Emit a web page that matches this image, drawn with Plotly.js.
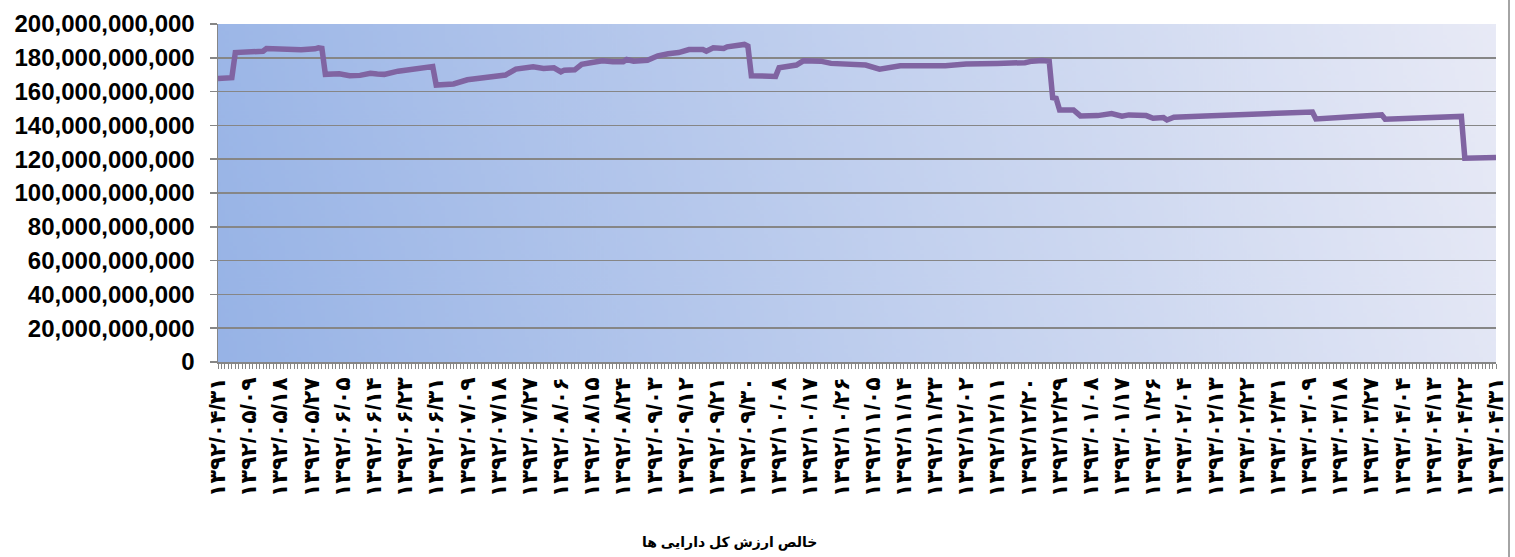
<!DOCTYPE html>
<html>
<head>
<meta charset="utf-8">
<script src="https://cdn.plot.ly/plotly-3.0.1.min.js"></script>
<style>
html,body{margin:0;padding:0;background:#fff;}
#chart{width:1515px;height:557px;}
</style>
</head>
<body>
<div id="chart"></div>
<script>
// Tick labels (every 9th daily category)
const tickLabels = ['۱۳۹۲/۰۴/۳۱','۱۳۹۲/۰۵/۰۹','۱۳۹۲/۰۵/۱۸','۱۳۹۲/۰۵/۲۷','۱۳۹۲/۰۶/۰۵','۱۳۹۲/۰۶/۱۴','۱۳۹۲/۰۶/۲۳','۱۳۹۲/۰۶/۳۱','۱۳۹۲/۰۷/۰۹','۱۳۹۲/۰۷/۱۸','۱۳۹۲/۰۷/۲۷','۱۳۹۲/۰۸/۰۶','۱۳۹۲/۰۸/۱۵','۱۳۹۲/۰۸/۲۴','۱۳۹۲/۰۹/۰۳','۱۳۹۲/۰۹/۱۲','۱۳۹۲/۰۹/۲۱','۱۳۹۲/۰۹/۳۰','۱۳۹۲/۱۰/۰۸','۱۳۹۲/۱۰/۱۷','۱۳۹۲/۱۰/۲۶','۱۳۹۲/۱۱/۰۵','۱۳۹۲/۱۱/۱۴','۱۳۹۲/۱۱/۲۳','۱۳۹۲/۱۲/۰۲','۱۳۹۲/۱۲/۱۱','۱۳۹۲/۱۲/۲۰','۱۳۹۲/۱۲/۲۹','۱۳۹۳/۰۱/۰۸','۱۳۹۳/۰۱/۱۷','۱۳۹۳/۰۱/۲۶','۱۳۹۳/۰۲/۰۴','۱۳۹۳/۰۲/۱۳','۱۳۹۳/۰۲/۲۲','۱۳۹۳/۰۲/۳۱','۱۳۹۳/۰۳/۰۹','۱۳۹۳/۰۳/۱۸','۱۳۹۳/۰۳/۲۷','۱۳۹۳/۰۴/۰۴','۱۳۹۳/۰۴/۱۳','۱۳۹۳/۰۴/۲۲','۱۳۹۳/۰۴/۳۱'];
const labelStep = 9;

// Series: category index (day number) and net asset value (rials)
const dayIndex = [0,4,5,13,14,17,20,22,24,28,29,30,31,35,38,41,44,46,48,52,56,61,62,63,68,72,78,81,83,86,89,90,91,94,97,99,100,103,105,108,111,114,117,118,120,124,127,130,133,136,140,141,143,146,147,152,153,154,158,161,162,165,167,169,172,174,177,181,184,187,191,195,197,200,206,210,216,224,225,233,235,238,240,241,242,243,247,249,254,258,261,263,266,268,270,273,274,276,285,300,316,317,324,325,336,337,343,358,359,360,369];
const navValue = [167.8e9,168.2e9,183.1e9,183.9e9,185.5e9,185.2e9,185.1e9,184.5e9,184.7e9,185.3e9,185.9e9,185.6e9,170.2e9,170.6e9,169.4e9,169.6e9,170.8e9,170.4e9,170.2e9,172.1e9,173.5e9,175.1e9,174.8e9,163.9e9,164.5e9,167.0e9,168.4e9,169.4e9,169.8e9,173.3e9,173.7e9,174.5e9,174.7e9,173.7e9,174.1e9,171.7e9,172.7e9,172.9e9,176.1e9,177.2e9,178.2e9,177.6e9,177.6e9,179.0e9,178.0e9,178.6e9,181.2e9,182.4e9,183.1e9,184.9e9,184.9e9,183.9e9,185.9e9,185.5e9,186.5e9,187.9e9,186.9e9,169.4e9,169.4e9,169.0e9,174.1e9,175.3e9,175.7e9,178.2e9,178.0e9,178.0e9,176.7e9,176.1e9,176.1e9,175.7e9,173.3e9,174.5e9,175.3e9,175.3e9,174.9e9,175.3e9,176.3e9,177.2e9,176.7e9,177.1e9,178.0e9,178.4e9,178.0e9,156.4e9,156.0e9,149.1e9,149.1e9,145.6e9,145.8e9,147.0e9,145.4e9,146.2e9,146.4e9,145.8e9,144.2e9,144.6e9,143.2e9,144.8e9,145.6e9,146.5e9,147.9e9,143.8e9,144.6e9,145.0e9,146.2e9,143.6e9,144.2e9,145.4e9,145.3e9,120.6e9,121.0e9];

const yTicks = [0,20e9,40e9,60e9,80e9,100e9,120e9,140e9,160e9,180e9,200e9];
const chartTitle = 'خالص ارزش کل دارایی ها';

// gradient background image for the plot area
function gradientImage(){
  const c = document.createElement('canvas');
  c.width = 640; c.height = 170;
  const g = c.getContext('2d');
  const grd = g.createLinearGradient(0, c.height, c.width, 0);
  grd.addColorStop(0, '#97b3e6');
  grd.addColorStop(0.5, '#c0cfee');
  grd.addColorStop(1, '#e8eaf6');
  g.fillStyle = grd;
  g.fillRect(0,0,c.width,c.height);
  return c.toDataURL('image/png');
}

const font = 'Arial, "Liberation Sans", "DejaVu Sans", sans-serif';
const tickvals = tickLabels.map((_, i) => i*labelStep);

const trace = {
  x: dayIndex, y: navValue, type: 'scatter', mode: 'lines',
  line: {color: '#8064a2', width: 5.5, shape: 'linear'},
  hoverinfo: 'skip'
};

const L = 218, R = 1496;
const layout = {
  width: 1515, height: 557,
  margin: {l: L, r: 1515-R, t: 24, b: 195, pad: 0},
  paper_bgcolor: '#ffffff',
  plot_bgcolor: 'rgba(0,0,0,0)',
  showlegend: false,
  xaxis: {
    range: [0, 369], tickmode: 'array', tickvals: tickvals, ticktext: tickLabels,
    tickangle: -90, ticks: 'outside', ticklen: 5, tickcolor: '#868686', tickwidth: 1,
    showline: true, linecolor: '#868686', linewidth: 1.5,
    showgrid: false, zeroline: false,
    tickfont: {family: font, size: 22, color: '#000', weight: 'bold'},
    minor: {tickmode: 'linear', tick0: 0, dtick: 1, ticks: 'outside', ticklen: 5, tickcolor: '#868686', tickwidth: 1, showgrid: false},
    fixedrange: true
  },
  yaxis: {
    range: [0, 200e9], tickmode: 'array', tickvals: yTicks, tickformat: ',.0f',
    ticks: 'outside', ticklen: 7, tickcolor: '#868686', tickwidth: 1.5,
    ticklabelstandoff: 10,
    showline: true, linecolor: '#868686', linewidth: 1.5,
    showgrid: true, gridcolor: '#868686', gridwidth: 1.5, zeroline: false,
    tickfont: {family: font, size: 24, color: '#000', weight: 'bold'},
    fixedrange: true
  },
  images: [{
    source: gradientImage(), xref: 'paper', yref: 'paper', x: 0, y: 1,
    sizex: 1, sizey: 1, sizing: 'stretch', xanchor: 'left', yanchor: 'top', layer: 'below'
  }],
  shapes: [{
    type: 'line', xref: 'paper', yref: 'paper',
    x0: (1509-L)/(R-L), x1: (1509-L)/(R-L), y0: -195/338, y1: 1+24/338,
    line: {color: '#868686', width: 1.5}
  }],
  annotations: [{
    text: chartTitle, xref: 'paper', yref: 'paper',
    x: (729-L)/(R-L), y: -(542-362)/338, xanchor: 'center', yanchor: 'middle',
    showarrow: false, font: {family: font, size: 14, color: '#000', weight: 'bold'}
  }]
};

Plotly.newPlot('chart', [trace], layout, {displayModeBar: false, staticPlot: true});
</script>
</body>
</html>
